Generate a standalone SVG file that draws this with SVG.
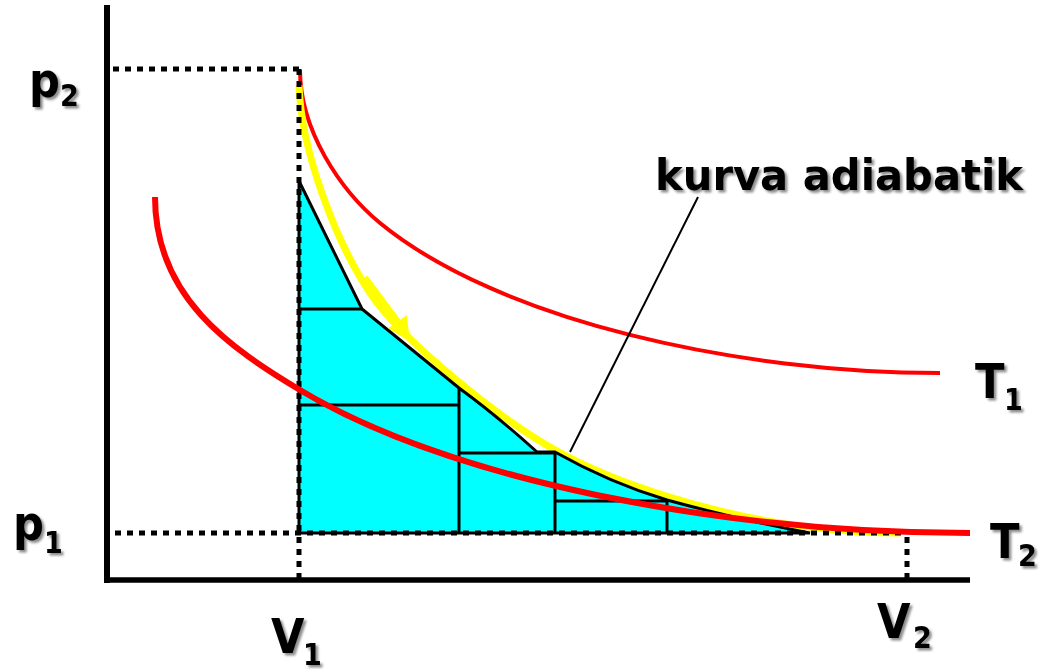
<svg xmlns="http://www.w3.org/2000/svg" width="1044" height="671" viewBox="0 0 1044 671">
<style>
.lbl{font-family:"DejaVu Sans Condensed","DejaVu Sans","Liberation Sans",sans-serif;font-stretch:condensed;font-weight:bold;fill:#000;filter:url(#sh)}
.head{font-family:"DejaVu Sans","Liberation Sans",sans-serif;font-weight:bold;fill:#000;filter:url(#sh)}
.dot{fill:none;stroke:#000;stroke-width:5;stroke-dasharray:6 6}
.thin{fill:none;stroke:#000;stroke-width:3}
</style>
<defs>
<filter id="sh" x="-10%" y="-20%" width="130%" height="150%">
<feDropShadow dx="2.5" dy="2.5" stdDeviation="1.2" flood-color="#000" flood-opacity="0.45"/>
</filter>
</defs>
<rect width="1044" height="671" fill="#fff"/>
<g id="axes">
<path d="M107,5 V583" stroke="#000" stroke-width="6" fill="none"/>
<path d="M104,580 H970" stroke="#000" stroke-width="5.5" fill="none"/>
</g>
<g id="isotherm-T1">
<path d="M300,70 C300,130 340,190 380,223 C500,321.4 740,373 940,373" fill="none" stroke="#f00" stroke-width="4"/>
</g>
<g id="adiabat">
<path d="M299,85 C301,150 335,240.5 370,293 C400,338 497,418 557,451 C617,484 750,533 900,533" fill="none" stroke="#ff0" stroke-width="7"/>
</g>
<g id="work-area">
<path d="M299,181 L362,309 L459,388 Q496,415 537,452 L555,452 Q610,483 667,500 Q740,520 810,533 L299,533 Z" fill="#0ff" stroke="#000" stroke-width="3"/>
<path class="thin" d="M299,309 H362 M299,405 H459 M459,388 V533 M459,453 H555 M555,452 V533 M555,501 H667 M667,500 V533"/>
</g>
<g id="arrow">
<polygon points="367.4,275.5 400.4,319.7 406.8,315.1 410,341.7 388.2,328.3 394.6,323.7 361.6,279.5" fill="#ff0"/>
</g>
<g id="guides">
<path class="dot" d="M113,69 H300"/>
<path class="dot" d="M299,69 V578"/>
<path class="dot" d="M115,533 H905"/>
<path class="dot" d="M907,537 V578"/>
</g>
<g id="isotherm-T2">
<path d="M155,197 C155,297 230,348 300,390 C450,480 720,533 970,533" fill="none" stroke="#f00" stroke-width="6"/>
</g>
<g id="connectors">
<path d="M570,452 L698,197" stroke="#000" stroke-width="2" fill="none"/>
</g>
<g id="label-adiabat">
<text class="head" x="655" y="190" font-size="42" textLength="368" lengthAdjust="spacingAndGlyphs">kurva adiabatik</text>
</g>
<g id="label-p2"><text class="lbl" x="29" y="97" font-size="48">p<tspan x="60" y="106" font-size="30">2</tspan></text></g>
<g id="label-p1"><text class="lbl" x="13" y="540" font-size="48">p<tspan x="44" y="553" font-size="30">1</tspan></text></g>
<g id="label-V1"><text class="lbl" x="271" y="653" font-size="48">V<tspan x="303" y="665" font-size="30">1</tspan></text></g>
<g id="label-V2"><text class="lbl" x="877" y="638" font-size="48">V<tspan x="913" y="648" font-size="30">2</tspan></text></g>
<g id="label-T1"><text class="lbl" x="975" y="398" font-size="48">T<tspan x="1004" y="410" font-size="30">1</tspan></text></g>
<g id="label-T2"><text class="lbl" x="990" y="558" font-size="48">T<tspan x="1018" y="566" font-size="30">2</tspan></text></g>
</svg>
